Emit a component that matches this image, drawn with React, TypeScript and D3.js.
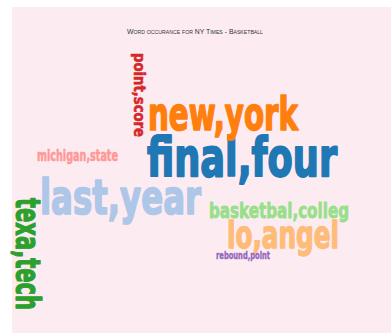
import React from "react";
import * as d3 from "d3";

const WIDTH = 391;
const HEIGHT = 333;

const title = "Word occurance for NY Times - Basketball";

// words sorted by frequency (font size in px of the original Impact layout)
const words = [
  "final,four",
  "last,year",
  "new,york",
  "lo,angel",
  "texa,tech",
  "basketbal,colleg",
  "point,score",
  "michigan,state",
  "rebound,point",
];
const counts = [49, 45, 42, 35, 32, 20, 14, 14, 9];

// cloud layout result (word centre x, baseline y, rotation, rendered length)
const layoutX = [242, 120.5, 223, 283, 15.5, 279, 134, 77.5, 243];
const layoutY = [176, 214, 130, 248, 254, 218, 95, 161, 259];
const layoutRotate = [0, 0, 0, 0, 90, 0, 90, 0, 0];
const layoutLength = [190, 161, 150, 112, 112, 140, 84, 81, 54];

const category20 = [
  "#1f77b4", "#aec7e8", "#ff7f0e", "#ffbb78", "#2ca02c",
  "#98df8a", "#d62728", "#ff9896", "#9467bd", "#c5b0d5",
];

export default function App() {
  const size = d3.scaleLinear().domain([0, 49]).range([0, 49 * 1.08]);
  const color = d3.scaleOrdinal<number, string>().domain(d3.range(10)).range(category20);

  return (
    <svg
      width={WIDTH}
      height={HEIGHT}
      style={{ position: "absolute", left: 0, top: 0, display: "block" }}
    >
      <rect x={12} y={7} width={WIDTH - 12} height={HEIGHT - 7} fill="#fcecf1" />
      <text
        x={195}
        y={33.5}
        textAnchor="middle"
        fontFamily="'Liberation Sans', Arial, sans-serif"
        fontSize={8}
        fontVariant="small-caps"
        fill="#333"
        textLength={136}
        lengthAdjust="spacingAndGlyphs"
      >
        {title}
      </text>
      <g>
        {words.map((w, i) => (
          <text
            key={w}
            transform={`translate(${layoutX[i]},${layoutY[i]}) rotate(${layoutRotate[i]})`}
            textAnchor="middle"
            fontFamily="'DejaVu Sans Condensed', 'DejaVu Sans', sans-serif"
            fontWeight="bold"
            fontSize={size(counts[i])}
            fill={color(i)}
            stroke={color(i)}
            strokeWidth={Math.max(0.3, size(counts[i]) * 0.035)}
            strokeLinejoin="round"
            textLength={layoutLength[i]}
            lengthAdjust="spacingAndGlyphs"
          >
            {w}
          </text>
        ))}
      </g>
    </svg>
  );
}
